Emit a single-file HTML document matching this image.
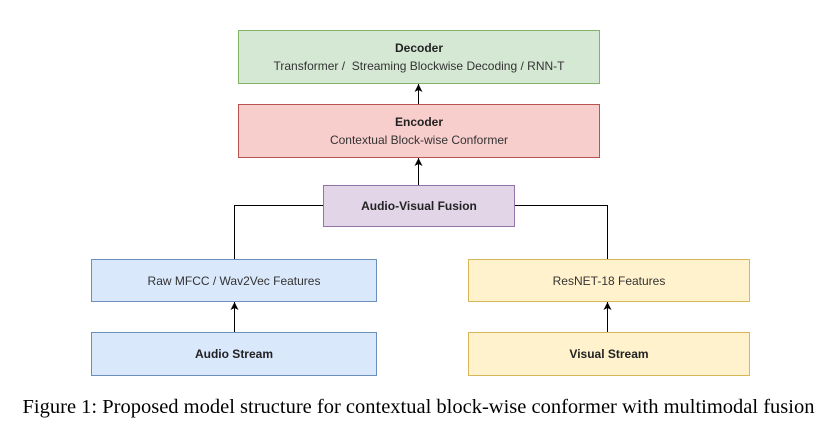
<!DOCTYPE html>
<html><head><style>
body{margin:0;background:#fff;width:837px;height:432px;position:relative;overflow:hidden;font-family:"Liberation Sans",Arial,sans-serif}
.b{position:absolute;box-sizing:border-box;display:flex;flex-direction:column;align-items:center;justify-content:center;font-size:12px;color:#333;line-height:18px;text-align:center}
.t{font-weight:bold;font-size:12px;color:#222}
</style></head><body>
<svg width="837" height="432" style="position:absolute;left:0;top:0">
<defs><marker id="a" markerWidth="9" markerHeight="9" refX="8" refY="4" orient="auto" markerUnits="userSpaceOnUse"><path d="M0,0 L8,4 L0,8 L2,4 Z" fill="#000"/></marker></defs>
<g stroke="#000" stroke-width="1" fill="none">
<line x1="418.5" y1="104" x2="418.5" y2="84" marker-end="url(#a)"/>
<line x1="418.5" y1="185" x2="418.5" y2="158" marker-end="url(#a)"/>
<polyline points="323,205.5 234.5,205.5 234.5,259"/>
<polyline points="515,205.5 607.5,205.5 607.5,259"/>
<line x1="234.5" y1="332" x2="234.5" y2="302" marker-end="url(#a)"/>
<line x1="607.5" y1="332" x2="607.5" y2="302" marker-end="url(#a)"/>
</g></svg>
<div class="b" style="left:238px;top:30px;width:362px;height:54px;background:#d5e8d4;border:1px solid #82b366"><span class="t">Decoder</span><span>Transformer /&nbsp; Streaming Blockwise Decoding / RNN-T</span></div>
<div class="b" style="left:238px;top:104px;width:362px;height:54px;background:#f8cecc;border:1px solid #b85450"><span class="t">Encoder</span><span>Contextual Block-wise Conformer</span></div>
<div class="b" style="left:323px;top:185px;width:192px;height:42px;background:#e1d5e7;border:1px solid #9673a6"><span class="t">Audio-Visual Fusion</span></div>
<div class="b" style="left:91px;top:259px;width:286px;height:43px;background:#dae8fc;border:1px solid #6c8ebf"><span>Raw MFCC / Wav2Vec Features</span></div>
<div class="b" style="left:468px;top:259px;width:282px;height:43px;background:#fff2cc;border:1px solid #d6b656"><span>ResNET-18 Features</span></div>
<div class="b" style="left:91px;top:332px;width:286px;height:44px;background:#dae8fc;border:1px solid #6c8ebf"><span class="t">Audio Stream</span></div>
<div class="b" style="left:468px;top:332px;width:282px;height:44px;background:#fff2cc;border:1px solid #d6b656"><span class="t">Visual Stream</span></div>
<div style="position:absolute;left:0;width:837px;top:395px;text-align:center;font-family:'Liberation Serif',serif;font-size:20.5px;line-height:24px;color:#000;white-space:nowrap">Figure 1: Proposed model structure for contextual block-wise conformer with multimodal fusion</div>
</body></html>
